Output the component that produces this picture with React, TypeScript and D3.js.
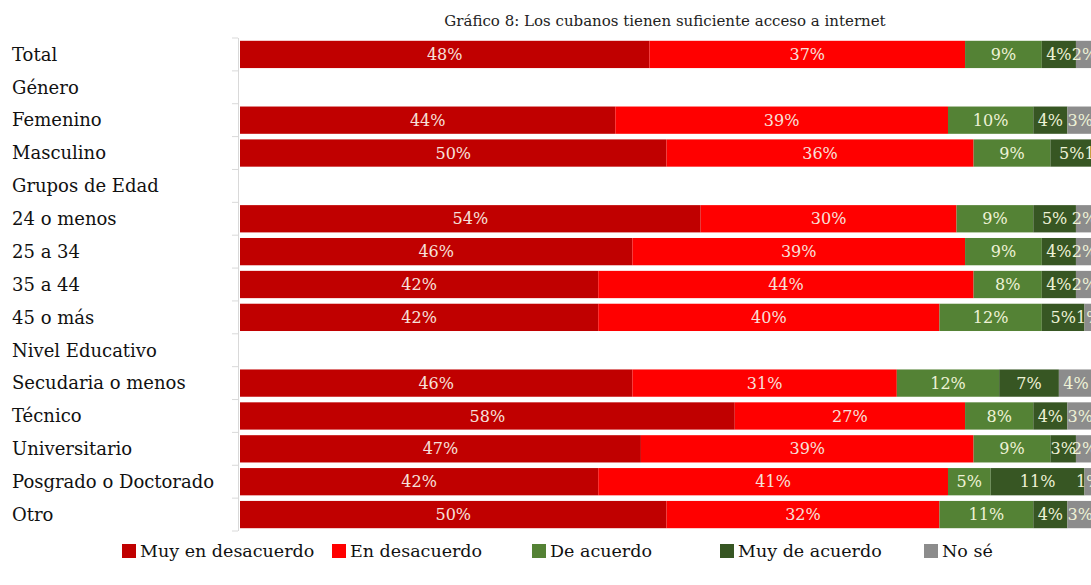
import React from 'react';
import * as d3 from 'd3';

// rows in display order; header rows have no values
const categories = [
  'Total', 'Género', 'Femenino', 'Masculino', 'Grupos de Edad',
  '24 o menos', '25 a 34', '35 a 44', '45 o más', 'Nivel Educativo',
  'Secudaria o menos', 'Técnico', 'Universitario', 'Posgrado o Doctorado', 'Otro'
];

const series = ['Muy en desacuerdo', 'En desacuerdo', 'De acuerdo', 'Muy de acuerdo', 'No sé'];
const colors = ['#c00000', '#ff0000', '#548235', '#375623', '#8c8c8c'];

const muyDesacuerdo = [48, null, 44, 50, null, 54, 46, 42, 42, null, 46, 58, 47, 42, 50];
const desacuerdo    = [37, null, 39, 36, null, 30, 39, 44, 40, null, 31, 27, 39, 41, 32];
const deAcuerdo     = [9, null, 10, 9, null, 9, 9, 8, 12, null, 12, 8, 9, 5, 11];
const muyDeAcuerdo  = [4, null, 4, 5, null, 5, 4, 4, 5, null, 7, 4, 3, 11, 4];
const noSe          = [2, null, 3, 1, null, 2, 2, 2, 1, null, 4, 3, 2, 1, 3];

const title = 'Gráfico 8: Los cubanos tienen suficiente acceso a internet';

const W = 1091, H = 585;
const font = '"DejaVu Serif", "Liberation Serif", serif';

export default function App() {
  const margin = {top: 38, left: 240};

  const y = d3.scaleBand<string>()
    .domain(categories)
    .range([margin.top, 531])
    .paddingInner(0.17)
    .paddingOuter(0.085);

  const x = d3.scaleLinear().domain([0, 100]).range([margin.left, 1093]);

  const table = categories.map((c, i) => ({
    cat: c,
    vals: [muyDesacuerdo[i], desacuerdo[i], deAcuerdo[i], muyDeAcuerdo[i], noSe[i]]
  }));

  const step = y.step();
  const ticks = d3.range(categories.length + 1).map(i => margin.top + i * step);

  const legendX = [122, 332, 532, 720, 924];

  return (
    <svg width={W} height={H} style={{position: 'absolute', left: 0, top: 0, background: '#fff', overflow: 'hidden'}}
         fontFamily={font}>
      <text x={665} y={26} textAnchor="middle" fontSize={15} fill="#222">{title}</text>

      {/* axis */}
      <line x1={238.5} x2={238.5} y1={margin.top} y2={margin.top + categories.length * step}
            stroke="#d9d9d9" />
      {ticks.map((t, i) => (
        <line key={i} x1={232} x2={238} y1={t} y2={t} stroke="#d9d9d9" />
      ))}

      {categories.map(c => (
        <text key={c} x={12} y={y(c)! + y.bandwidth() / 2} dy="0.35em" fontSize={18} fill="#111">{c}</text>
      ))}

      {table.map(row => {
        if (row.vals[0] == null) return null;
        let acc = 0;
        return (
          <g key={row.cat}>
            {row.vals.map((v, j) => {
              const x0 = x(acc);
              acc += v as number;
              const x1 = x(acc);
              const cy = y(row.cat)! + y.bandwidth() / 2;
              return (
                <g key={j}>
                  <rect x={x0} y={y(row.cat)} width={x1 - x0} height={y.bandwidth()} fill={colors[j]} />
                  <text x={(x0 + x1) / 2} y={cy} dy="0.35em" textAnchor="middle" fontSize={16}
                        fill={j < 2 ? '#f7e0dc' : '#eef2d6'}>{v}%</text>
                </g>
              );
            })}
          </g>
        );
      })}

      {/* legend */}
      {series.map((s, i) => (
        <g key={s} transform={`translate(${legendX[i]}, 544)`}>
          <rect width={14} height={14} fill={colors[i]} />
          <text x={18} y={7} dy="0.35em" fontSize={17.5} fill="#111">{s}</text>
        </g>
      ))}
    </svg>
  );
}
